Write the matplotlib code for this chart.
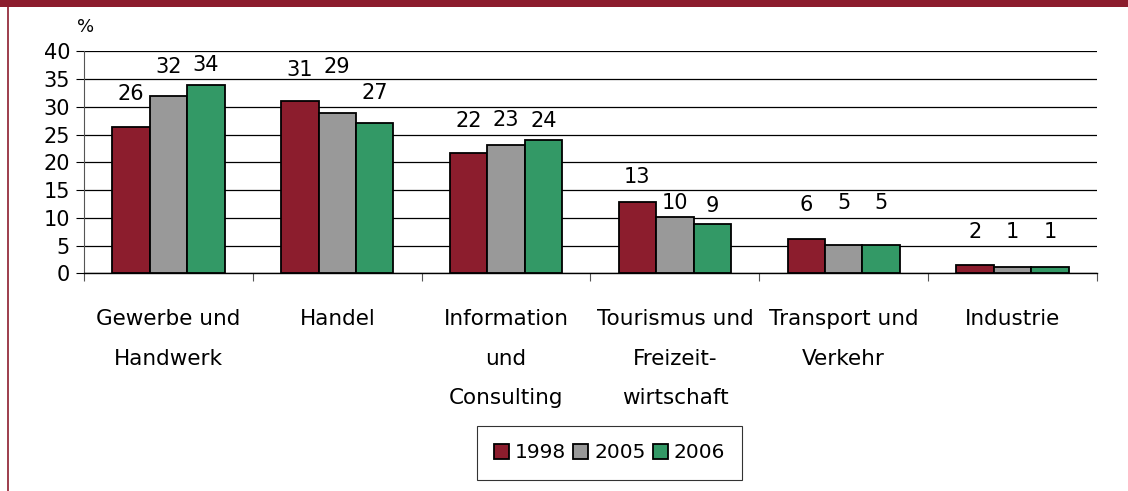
import matplotlib
matplotlib.use("Agg")
import matplotlib.pyplot as plt
from matplotlib.patches import Rectangle
from matplotlib.lines import Line2D
import numpy as np

categories = ["Gewerbe und\nHandwerk", "Handel", "Information\nund\nConsulting",
              "Tourismus und\nFreizeit-\nwirtschaft", "Transport und\nVerkehr", "Industrie"]
years = ["1998", "2005", "2006"]
v1998 = [26.3, 31.0, 21.6, 12.8, 6.2, 1.5]
v2005 = [31.9, 28.9, 23.1, 10.1, 5.1, 1.1]
v2006 = [33.9, 27.1, 24.1, 8.9, 5.1, 1.1]
lab1998 = ["26", "31", "22", "13", "6", "2"]
lab2005 = ["32", "29", "23", "10", "5", "1"]
lab2006 = ["34", "27", "24", "9", "5", "1"]
yticks = [0, 5, 10, 15, 20, 25, 30, 35, 40]

# style: label offsets above bar top (pixels, to label centre)
off1998 = [33, 31, 32, 25, 34, 33]
off2005 = [29, 46, 25, 14, 42, 35]
off2006 = [20, 30, 19, 18, 42, 35]

colors = ["#8C1D2D", "#999999", "#339966"]
DARK = "#8C1D2D"
DPI = 100
W, H = 1128, 491

fig = plt.figure(figsize=(W / DPI, H / DPI), dpi=DPI)
plt.rcParams['font.family'] = ['DejaVu Sans']

ax = fig.add_axes([84 / W, 1 - 273.3 / H, (1097 - 84) / W, (273.3 - 51.3) / H])

x = np.arange(len(categories))
bw = 0.222
series = [(v1998, lab1998, off1998), (v2005, lab2005, off2005), (v2006, lab2006, off2006)]
for i, (vals, labs, offs) in enumerate(series):
    pos = x + (i - 1) * bw
    ax.bar(pos, vals, width=bw, color=colors[i], edgecolor="black", linewidth=1.3,
           zorder=3, label=years[i])
    for px, v, lab, o in zip(pos, vals, labs, offs):
        ax.annotate(lab, (px, v), xytext=(0, o * 72 / DPI), textcoords="offset points",
                    ha="center", va="center", fontsize=15, color="black", zorder=4)

ax.set_ylim(0, 40)
ax.set_xlim(-0.5, len(categories) - 0.5)
ax.set_yticks(yticks)
ax.set_yticklabels([str(t) for t in yticks], fontsize=15)
ax.yaxis.grid(True, color="black", linewidth=0.9, zorder=0)
ax.set_axisbelow(True)
ax.tick_params(axis="y", length=6, width=0.8, pad=4, color="black")

# boundary ticks on x (major), labels on minor ticks at centres
ax.set_xticks(np.arange(len(categories) + 1) - 0.5)
ax.set_xticklabels([])
ax.tick_params(axis="x", which="major", length=5.5, width=0.8, color="#555555")
ax.set_xticks(x, minor=True)
ax.set_xticklabels(categories, minor=True, fontsize=15.5, linespacing=2.22, ha="center", va="top")
ax.tick_params(axis="x", which="minor", length=0, pad=26)

for s in ["top", "right"]:
    ax.spines[s].set_visible(False)
ax.spines["left"].set_color("#555555")
ax.spines["left"].set_linewidth(0.8)
ax.spines["bottom"].set_color("black")
ax.spines["bottom"].set_linewidth(1.0)

fig.text(86 / W, 1 - 27 / H, "%", fontsize=13, ha="center", va="center")

handles = [Rectangle((0, 0), 1, 1, facecolor=c, edgecolor="black", linewidth=1.3) for c in colors]
leg = fig.legend(handles, years, loc="center", bbox_to_anchor=(609.5 / W, 1 - 453 / H),
                 ncol=3, fontsize=14.5, frameon=True, fancybox=False, handlelength=0.75,
                 handleheight=0.75, handletextpad=0.3, columnspacing=0.35, borderpad=0.85,
                 borderaxespad=0)
leg.get_frame().set_edgecolor("black")
leg.get_frame().set_linewidth(0.8)

# top band and left border
fig.patches.append(Rectangle((0, 1 - 7 / H), 1, 7 / H, transform=fig.transFigure,
                             facecolor=DARK, edgecolor="none", zorder=10))
fig.lines.append(Line2D([7.5 / W, 7.5 / W], [0, 1], transform=fig.transFigure,
                        color=DARK, linewidth=1.2, zorder=10))

fig.savefig("out.png", dpi=DPI, facecolor="white")
